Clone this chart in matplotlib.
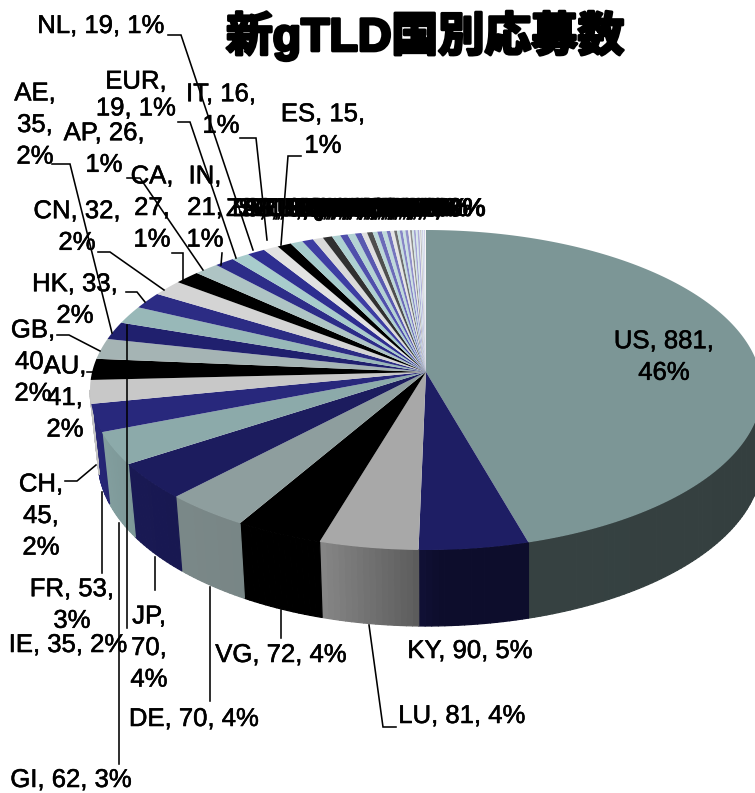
import numpy as np
import matplotlib
matplotlib.use("Agg")
import matplotlib.pyplot as plt
import matplotlib.patheffects as pe
from matplotlib.collections import PolyCollection
from matplotlib.colors import to_rgb

FONT = ['Liberation Sans', 'Noto Sans CJK JP', 'DejaVu Sans']
plt.rcParams['font.family'] = FONT

title = "新gTLD国別応募数"
countries = ["US", "KY", "LU", "VG", "DE", "JP", "GI", "FR", "CH", "AU", "GB", "IE", "AE", "HK", "CN",
             "CA", "AP", "IN", "EUR", "NL", "IT", "ES",
             "ZA", "BM", "SG", "SE", "FI", "RU", "TR", "KR", "BE", "PL", "TW", "SA", "AT", "NO", "QA",
             "CY", "PA", "LI", "MX", "NZ", "UA", "TH", "MY", "BR", "AR", "AW", "CL", "EG", "KE", "IL",
             "LB", "OM", "HU"]
counts = [881, 90, 81, 72, 70, 70, 62, 53, 45, 41, 40, 35, 35, 33, 32,
          27, 26, 21, 19, 19, 16, 15,
          13, 12, 11, 10, 9, 8, 8, 7, 6, 6, 5, 5, 5, 4, 4,
          3, 3, 3, 3, 3, 2, 2, 2, 2, 2, 2, 1, 1, 1, 1,
          1, 1, 1]

W, H = 755, 793
fig = plt.figure(figsize=(W / 100, H / 100), dpi=100, facecolor="white")
ax = fig.add_axes([0, 0, 1, 1])
ax.set_xlim(0, W)
ax.set_ylim(H, 0)
ax.axis("off")

# 3-D pie geometry (pixels)
APEX = (426, 372)
TOP = dict(cx=426, cy=390, ar=336, al=336, b=160)
BOT = dict(cx=426, cy=460, ar=336, al=328, b=166)


def warp(phi):
    phi = np.asarray(phi, dtype=float)
    left = np.where(phi > 180, 8 * np.sin(np.radians(phi - 180)), 0.0)
    right = np.where((phi > 90) & (phi <= 180), -4 * np.sin(np.radians(2 * (phi - 90))), 0.0)
    return phi + left + right


def arc(e, phi):
    p = np.radians(warp(phi))
    s = np.sin(p)
    return e["cx"] + np.where(s >= 0, e["ar"], e["al"]) * s, e["cy"] - e["b"] * np.cos(p)


first = ["#7C9696", "#1E1E64", "#A8A8A8", "#000000", "#8E9E9E", "#1C1C5E",
         "#8CAAAA", "#28287C", "#C8C8C8", "#000000", "#A5B4B4", "#20206E",
         "#98B8B8", "#2C2C84", "#D4D4D4", "#000000", "#AEC4C4", "#2C2C88",
         "#A8CCCC", "#2E2E90", "#E2E2E2", "#000000"]
bases = ["#A6CCCC", "#3838A0", "#D8D8D8", "#202020", "#A6CCCC", "#3838A0"]
colors = list(first)
n_rest = len(counts) - len(first)
for i in range(n_rest):
    t = 0.75 * i / max(n_rest - 1, 1)
    c = np.array(to_rgb(bases[i % 6]))
    colors.append(tuple(c + (1 - c) * t))

edges = 360 * np.cumsum([0] + counts) / sum(counts)


def shade(phi):
    return np.interp(phi, [115, 178, 182, 198, 228, 270], [0.42, 0.44, 0.56, 0.83, 0.87, 1.0])


# side wall
polys, cols = [], []
for i in range(len(counts)):
    lo, hi = edges[i], edges[i + 1]
    lo2, hi2 = max(lo, 85.0), min(hi, 262.0)
    if hi2 <= lo2:
        continue
    ph = np.linspace(lo2, hi2, max(int((hi2 - lo2) / 1.0) + 2, 2))
    for a0, a1 in zip(ph[:-1], ph[1:]):
        x0, y0 = arc(TOP, np.array([a0, a1]))
        x1, y1 = arc(BOT, np.array([a1, a0]))
        polys.append(list(zip(np.r_[x0, x1], np.r_[y0, y1])))
        cols.append(tuple(np.array(to_rgb(colors[i])) * shade((a0 + a1) / 2)))
ax.add_collection(PolyCollection(polys, facecolors=cols, edgecolors=cols, linewidths=0.9, zorder=1))

# top surface
for i in range(len(counts)):
    ph = np.linspace(edges[i], edges[i + 1], max(int(edges[i + 1] - edges[i]) + 2, 2))
    x, y = arc(TOP, ph)
    ax.fill(np.r_[APEX[0], x], np.r_[APEX[1], y], facecolor=colors[i], edgecolor="none", zorder=2)

# leader lines (layout, pixels)
leaders = [
    [(168, 35), (181, 35), (253, 250)],
    [(178, 122), (190, 122), (236, 258)],
    [(240, 138), (256, 138), (267, 240)],
    [(301, 156), (288, 156), (281, 245)],
    [(52, 164), (70, 164), (112, 333)],
    [(127, 178), (140, 178), (203, 270)],
    [(98, 252), (110, 252), (164, 290)],
    [(172, 253), (183, 253), (183, 280)],
    [(222, 253), (221, 265)],
    [(126, 292), (137, 292), (145, 302)],
    [(57, 335), (69, 335), (100, 351)],
    [(87, 372), (93, 372)],
    [(65, 481), (77, 481), (96, 465)],
    [(102, 492), (102, 573)],
    [(127, 325), (127, 628)],
    [(119, 523), (119, 764)],
    [(155, 557), (155, 590)],
    [(210, 587), (210, 701)],
    [(281, 610), (281, 638)],
    [(369, 625), (383, 727), (396, 727)],
]
for seg in leaders:
    xs, ys = zip(*seg)
    ax.plot(xs, ys, color="black", lw=1.15, zorder=3, solid_joinstyle="miter")

label_layout = {
    "US": (664, 357, "c"), "KY": (470, 651, "o"), "LU": (462, 716, "o"),
    "VG": (281, 655, "o"), "DE": (194, 719, "o"), "JP": (149, 648, "s"),
    "GI": (71, 780, "o"), "IE": (68, 645, "o"), "FR": (72, 605, "c"),
    "CH": (41, 516, "s"), "AU": (65, 398, "s"), "GB": (33, 362, "s"),
    "HK": (75, 300, "c"), "CN": (77, 227, "c"), "AE": (35, 125, "s"),
    "AP": (104, 149, "c"), "EUR": (136, 95, "e"), "IT": (221, 110, "c"),
    "ES": (323, 130, "c"), "NL": (101, 26, "o"), "CA": (152, 208, "s"),
    "IN": (205, 208, "s"),
}
total = sum(counts)


def pct(v):
    return f"{round(100 * v / total):d}%"


thin = [pe.withStroke(linewidth=0.4, foreground="black")]
for c, v in zip(countries, counts):
    if c in label_layout:
        x, y, mode = label_layout[c]
        if mode == "c":
            s = f"{c}, {v},\n{pct(v)}"
        elif mode == "e":
            s = f"{c},\n{v}, {pct(v)}"
        elif mode == "s":
            s = f"{c},\n{v},\n{pct(v)}"
        else:
            s = f"{c}, {v}, {pct(v)}"
        ax.text(x, y, s, ha="center", va="center", fontsize=18.5,
                linespacing=1.4 if mode != "e" else 1.15,
                color="black", zorder=5, path_effects=thin)

small = [(c, v) for c, v in zip(countries, counts) if c not in label_layout]
lefts = np.r_[[226, 232, 238, 244, 250, 258, 268], np.linspace(280, 368, len(small) - 7)]
for (c, v), x in zip(small, lefts):
    ax.text(x, 209, f"{c}, {v}, {pct(v)}", ha="left", va="center", fontsize=18.5,
            color="black", zorder=5, path_effects=thin)

t = ax.text(425, 36, title, ha="center", va="center", fontsize=33.5, fontweight="bold",
            color="black", zorder=6)
t.set_path_effects([pe.withStroke(linewidth=2.2, foreground="black")])

fig.savefig("out.png", dpi=100, facecolor="white")
